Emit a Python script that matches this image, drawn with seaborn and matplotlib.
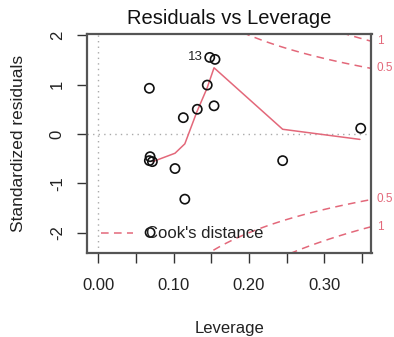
import numpy as np
import pandas as pd
import matplotlib
matplotlib.use("Agg")
import matplotlib.pyplot as plt
import matplotlib.transforms as mtransforms
from matplotlib.lines import Line2D
import seaborn as sns

# ---- data ----
leverage = [0.068, 0.069, 0.068, 0.072, 0.069, 0.102, 0.113, 0.115, 0.1315,
            0.1447, 0.148, 0.155, 0.1537, 0.2446, 0.348]
std_resid = [0.925, -0.46, -0.54, -0.56, -1.995, -0.70, 0.33, -1.32, 0.50,
             0.99, 1.55, 1.51, 0.57, -0.54, 0.115]
smooth_x = [0.0725, 0.102, 0.115, 0.131, 0.1445, 0.1537, 0.2446, 0.347]
smooth_y = [-0.56, -0.39, -0.20, 0.45, 0.93, 1.34, 0.095, -0.11]
label_point = ("13", 0.148, 1.55)
cook_levels = [0.5, 1.0]
n_params = 2
xtick_vals = [0.00, 0.05, 0.10, 0.15, 0.20, 0.25, 0.30, 0.35]
xtick_labels = ["0.00", "", "0.10", "", "0.20", "", "0.30", ""]
ytick_vals = [-2, -1, 0, 1, 2]
ytick_labels = ["-2", "-1", "0", "1", "2"]

RED = "#E3687A"
DARK = "#222222"

sns.set_style("ticks")
plt.rcParams["font.family"] = ["Liberation Sans", "DejaVu Sans"]

fig = plt.figure(figsize=(3.94, 3.37), dpi=100)
ax = fig.add_axes([87 / 394, 1 - 253 / 337, (371.5 - 87) / 394, (253 - 34) / 337])

xlim = (-0.0146, 0.3623)
ylim = (-2.41, 2.024)
ax.set_xlim(*xlim)
ax.set_ylim(*ylim)

# reference lines
ax.axhline(0, color="#AAAAAA", lw=1.0, ls=(0, (1, 3)), zorder=1)
ax.axvline(0, color="#AAAAAA", lw=1.0, ls=(0, (1, 3)), zorder=1)

# Cook's distance contours
hh = np.linspace(0.002, xlim[1], 101)
for lev in cook_levels:
    cl = np.sqrt(lev * n_params * (1 - hh) / hh)
    for sgn in (1, -1):
        ax.plot(hh, sgn * cl, color=RED, lw=1.1, ls=(0, (5, 3.5)), zorder=2)

# smooth line
sm = pd.DataFrame({"x": smooth_x, "y": smooth_y})
sns.lineplot(data=sm, x="x", y="y", estimator=None, sort=False, color=RED,
             lw=1.1, ax=ax, zorder=3)

# points
df = pd.DataFrame({"leverage": leverage, "resid": std_resid})
sns.scatterplot(data=df, x="leverage", y="resid", ax=ax, s=44,
                facecolor="none", edgecolor="#111111", linewidth=1.2, zorder=4)

# label
ax.annotate(label_point[0], (label_point[1], label_point[2]), xytext=(-5, 0),
            textcoords="offset points", ha="right", va="center",
            fontsize=9.5, color=DARK)

# right-side labels for Cook's contours
trans = mtransforms.blended_transform_factory(ax.transAxes, ax.transData)
for lev in cook_levels:
    val = np.sqrt(lev * n_params * (1 - xlim[1]) / xlim[1])
    txt = "1" if lev == 1 else "0.5"
    for sgn in (1, -1):
        ax.text(1.018, sgn * val, txt, transform=trans, color=RED,
                fontsize=8.5, va="center", ha="left", clip_on=False)

# legend
h = Line2D([], [], color=RED, lw=1.1, ls=(0, (5, 3.5)))
leg = ax.legend([h], ["Cook's distance"], loc="center left",
                bbox_to_anchor=(0.05, 0.087), frameon=False, fontsize=12,
                handlelength=1.9, handletextpad=0.8, borderpad=0,
                borderaxespad=0)
for t in leg.get_texts():
    t.set_color(DARK)

# axes styling
for sp in ax.spines.values():
    sp.set_visible(True)
    sp.set_color("#555555")
    sp.set_linewidth(1.6)

ax.set_xticks(xtick_vals)
ax.set_xticklabels(xtick_labels)
ax.set_yticks(ytick_vals)
ax.set_yticklabels(ytick_labels, rotation=90, va="center")
ax.tick_params(axis="both", direction="out", length=7, width=1.0,
               color="#333333", labelsize=12, labelcolor=DARK)
ax.tick_params(axis="x", pad=11)
ax.tick_params(axis="y", pad=9)

ax.set_xlabel("Leverage", fontsize=12, color=DARK, labelpad=20)
ax.set_ylabel("Standardized residuals", fontsize=12.5, color=DARK, labelpad=17)
ax.set_title("Residuals vs Leverage", fontsize=14.5, color="#111111", pad=7)

fig.savefig("out.png", dpi=100)
